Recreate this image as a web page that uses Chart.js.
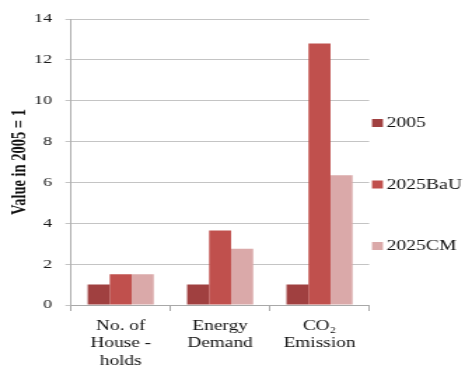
<!DOCTYPE html>
<html>
<head>
<meta charset="utf-8">
<script src="https://cdn.jsdelivr.net/npm/chart.js@4/dist/chart.umd.min.js"></script>
<style>
  html, body { margin: 0; padding: 0; background: #ffffff; overflow: hidden; }
  #wrap { width: 332px; height: 367px; transform: scaleX(1.4006); transform-origin: 0 0; }
  canvas { display: block; }
</style>
</head>
<body>
<div id="wrap"><canvas id="chart" width="332" height="367"></canvas></div>
<script>
// Indicators, relative to the 2005 level
const categories = [["No. of", "House -", "holds"], ["Energy", "Demand"], ["CO\u2082", "Emission"]];
const seriesNames = ["2005", "2025BaU", "2025CM"];
const values2005 = [1, 1, 1];
const valuesBaU = [1.5, 3.65, 12.8];
const valuesCM = [1.5, 2.75, 6.35];
const yTicks = [0, 2, 4, 6, 8, 10, 12, 14];

const colors = ["#A04040", "#C0504D", "#DAA9A9"];
const serif = "'Liberation Serif', 'Times New Roman', serif";

// Legend drawn at the right of the plot, one entry per dataset
const sideLegend = {
  id: "sideLegend",
  afterDraw(chart) {
    const ctx = chart.ctx;
    const x = chart.chartArea.right + 2;
    const rows = [123, 184.5, 246];
    ctx.save();
    ctx.font = "14px " + serif;
    ctx.textBaseline = "middle";
    ctx.textAlign = "left";
    chart.data.datasets.forEach((ds, i) => {
      ctx.fillStyle = ds.backgroundColor;
      ctx.fillRect(x, rows[i] - 4, 7.8, 8);
      ctx.fillStyle = "#111";
      ctx.fillText(ds.label, x + 10.5, rows[i] + 0.5);
    });
    ctx.restore();
  }
};

new Chart(document.getElementById("chart"), {
  type: "bar",
  data: {
    labels: categories,
    datasets: [
      { label: seriesNames[0], data: values2005, backgroundColor: colors[0] },
      { label: seriesNames[1], data: valuesBaU, backgroundColor: colors[1] },
      { label: seriesNames[2], data: valuesCM, backgroundColor: colors[2] }
    ]
  },
  options: {
    responsive: false,
    animation: false,
    devicePixelRatio: 1,
    layout: { padding: { top: 19, right: 68.4, left: 0, bottom: 0 } },
    datasets: { bar: { categoryPercentage: 0.665, barPercentage: 1.0 } },
    plugins: { legend: { display: false }, tooltip: { enabled: false } },
    scales: {
      x: {
        offset: true,
        grid: { offset: true, drawOnChartArea: false, drawTicks: true, tickLength: 6, color: "#A8A8A8" },
        border: { display: true, color: "#A8A8A8" },
        ticks: {
          padding: 6,
          color: "#111",
          maxRotation: 0,
          autoSkip: false,
          font: { family: serif, size: 13.8, lineHeight: 1.29 }
        },
        afterFit(scale) { scale.height = 62; }
      },
      y: {
        min: 0,
        max: 14,
        afterBuildTicks(scale) { scale.ticks = yTicks.map(v => ({ value: v })); },
        grid: { color: "#C4C4C4", drawTicks: true, tickLength: 4 },
        border: { display: true, color: "#B0B0B0" },
        ticks: {
          padding: 9.4,
          color: "#1a1a1a",
          font: { family: serif, size: 13 }
        },
        title: {
          display: true,
          text: "Value in 2005 = 1",
          color: "#111",
          font: { family: serif, size: 14.5, weight: "bold" },
          padding: { top: 5.5, bottom: 0 }
        },
        afterFit(scale) { scale.width = 50.7; }
      }
    }
  },
  plugins: [sideLegend]
});
</script>
</body>
</html>
